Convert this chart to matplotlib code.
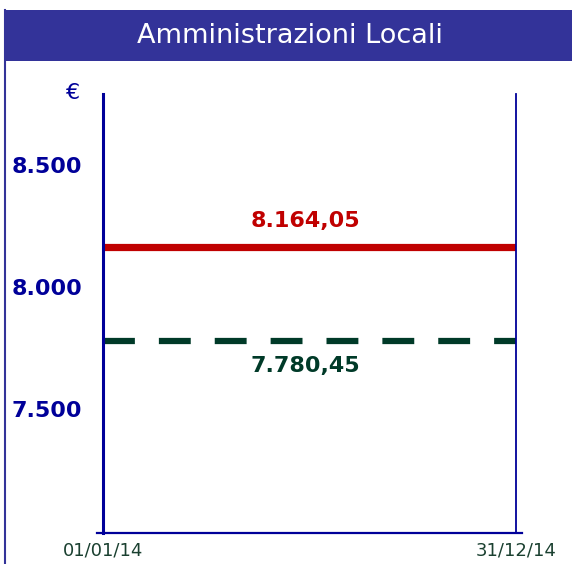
import matplotlib.pyplot as plt
from matplotlib.lines import Line2D
from matplotlib.patches import Rectangle

# data
title = 'Amministrazioni Locali'
dates = ['01/01/14', '31/12/14']
x_pos = [0, 1]
red_values = [8164.05, 8164.05]     # solid red line
green_values = [7780.45, 7780.45]   # dashed green line
y_ticks = [7500, 8000, 8500]
y_tick_labels = ['7.500', '8.000', '8.500']

BLUE = '#000099'
BAR = '#333399'
RED = '#c00000'
GREEN = '#003a28'
DATE_COL = '#1a4030'


def it_fmt(v):
    # 8164.05 -> 8.164,05
    s = '{:,.2f}'.format(v)
    return s.replace(',', 'X').replace('.', ',').replace('X', '.')


fig = plt.figure(figsize=(5.72, 5.64), dpi=100)
fig.patch.set_facecolor('white')

# title bar + left border
fig.add_artist(Rectangle((5 / 572, 1 - 61 / 564), 1, 51 / 564, transform=fig.transFigure,
                         facecolor=BAR, edgecolor='none'))
fig.add_artist(Line2D([5 / 572, 5 / 572], [0, 1 - 10 / 564], transform=fig.transFigure,
                      color=BAR, lw=1.5))
fig.text(290 / 572, 1 - 36 / 564, title, color='white', fontsize=19.5,
         ha='center', va='center')

ax = fig.add_axes([103 / 572, 1 - 533 / 564, 413 / 572, 439 / 564])
ax.set_facecolor('white')

ax.plot(x_pos, red_values, color=RED, lw=5.2, solid_capstyle='butt')
ax.plot(x_pos, green_values, color=GREEN, lw=4.5, dashes=(5.1, 3.84),
        dash_capstyle='butt')

ax.text(0.49, red_values[0] + 105, it_fmt(red_values[0]), color=RED,
        fontsize=16, fontweight='bold', ha='center', va='center')
ax.text(0.49, green_values[0] - 105, it_fmt(green_values[0]), color=GREEN,
        fontsize=16, fontweight='bold', ha='center', va='center')

ax.set_xlim(0, 1)
ax.set_ylim(6993, 8790)

ax.set_yticks(y_ticks)
ax.set_yticklabels(y_tick_labels, color=BLUE, fontsize=16, fontweight='bold')
ax.set_xticks(x_pos)
ax.set_xticklabels(dates, color=DATE_COL, fontsize=13)
ax.tick_params(axis='y', length=0, pad=15)
ax.tick_params(axis='x', length=0, pad=6)

ax.spines['top'].set_visible(False)
ax.spines['left'].set_color(BLUE)
ax.spines['left'].set_linewidth(2.2)
ax.spines['right'].set_color(BLUE)
ax.spines['right'].set_linewidth(1.3)
ax.spines['bottom'].set_visible(False)
# bottom line sticks out a bit on both sides
ax.plot([-0.015, 1.015], [0, 0], transform=ax.transAxes, color=BLUE, lw=1.6,
        clip_on=False)

fig.text(73 / 572, 1 - 93 / 564, '€', color=BLUE, fontsize=16,
         ha='center', va='center')

fig.savefig('out.png', dpi=100)
